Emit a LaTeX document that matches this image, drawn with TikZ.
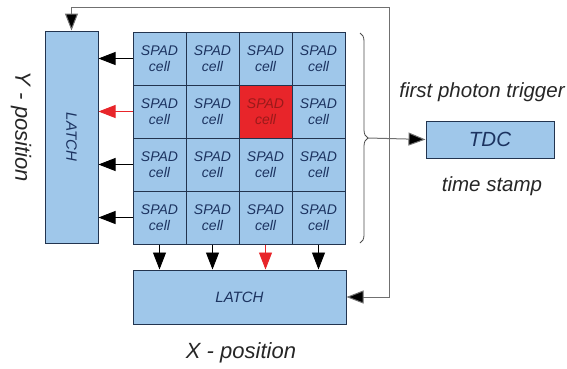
\documentclass[tikz,border=0pt]{standalone}
\usepackage{fontspec}
\setmainfont{Liberation Sans}
\usetikzlibrary{arrows.meta,decorations.pathreplacing,calc}
\definecolor{cellfill}{HTML}{9FC7EA}
\definecolor{cellline}{HTML}{22344F}
\definecolor{celltext}{HTML}{1C3360}
\definecolor{hitred}{HTML}{E8252A}
\definecolor{hittext}{HTML}{9A1A1A}
\definecolor{feedgray}{HTML}{707070}
\begin{document}
\begin{tikzpicture}[x=1pt,y=-1pt,
  cellbox/.style={draw=cellline,line width=1pt,fill=cellfill,minimum width=53pt,minimum height=53pt,inner sep=0pt,align=center,text=celltext,font=\fontsize{14}{16.5}\selectfont\itshape},
  hitbox/.style={cellbox,fill=hitred,text=hittext},
  blockbox/.style={draw=cellline,line width=1pt,fill=cellfill,inner sep=0pt,text=celltext},
  bigtip/.style={-{Triangle[length=17pt,width=13pt,fill=#1]}},
  sig/.style={draw=black,line width=0.9pt,bigtip=black},
  redsig/.style={draw=hitred,line width=0.9pt,bigtip=hitred},
  feed/.style={draw=feedgray,line width=1pt},
  label/.style={text=black!85,font=\fontsize{20.5}{24}\selectfont\itshape,inner sep=0pt}
]
\useasboundingbox (0,0) rectangle (567,368);
% grid of SPAD cells
\foreach \r in {1,...,4}{
  \foreach \c in {1,...,4}{
    \pgfmathsetmacro{\cx}{133+26.5+53*(\c-1)}
    \pgfmathsetmacro{\cy}{32+26.5+53*(\r-1)}
    \ifnum\r=2 \ifnum\c=3
      \node[hitbox] (c-\r-\c) at (\cx,\cy) {SPAD\\cell};
    \else
      \node[cellbox] (c-\r-\c) at (\cx,\cy) {SPAD\\cell};
    \fi\else
      \node[cellbox] (c-\r-\c) at (\cx,\cy) {SPAD\\cell};
    \fi
  }
}
% latches and TDC
\node[blockbox,minimum width=53pt,minimum height=212pt] (ylatch) at (71.5,137) {};
\node[text=celltext,font=\fontsize{15}{18}\selectfont\itshape,rotate=-90] (ylatchtext) at (ylatch.center) {LATCH};
\node[blockbox,minimum width=213pt,minimum height=54pt,font=\fontsize{15}{18}\selectfont\itshape] (xlatch) at (239.5,297) {LATCH};
\node[blockbox,minimum width=128pt,minimum height=37pt,font=\fontsize{20.5}{24}\selectfont\itshape] (tdc) at (490,139.5) {TDC};
% row signals to Y latch
\foreach \r in {1,3,4}{
  \draw[sig] (c-\r-1.west) -- (ylatch.east |- c-\r-1.west);
}
\draw[redsig] (c-2-1.west) -- (ylatch.east |- c-2-1.west);
% column signals to X latch
\foreach \c in {1,2,4}{
  \draw[sig] (c-4-\c.south) -- (xlatch.north -| c-4-\c.south);
}
\draw[redsig] (c-4-3.south) -- (xlatch.north -| c-4-3.south);
% brace and trigger
\coordinate (bracetop) at (360,33);
\coordinate (bracebot) at (360,243);
\draw[draw=black!70,line width=0.8pt,decorate,decoration={brace,amplitude=8pt}] (bracetop) -- (bracebot);
\coordinate (trig) at (368,138);
\draw[feed,bigtip=black] (trig) -- (tdc.west);
% feedback loop
\coordinate (fb) at (389,7);
\draw[feed,bigtip=black] (fb) -| (ylatch.north);
\draw[feed,bigtip=black] (fb) |- (xlatch.east);
% labels
\node[label] (fpt) at (482,92) {first photon trigger};
\node[label] (ts) at (492,186) {time stamp};
\node[label,font=\fontsize{22}{26}\selectfont\itshape,rotate=-90] (ypos) at (21,127) {Y - position};
\node[label,font=\fontsize{22}{26}\selectfont\itshape] (xpos) at (241,353) {X - position};
\end{tikzpicture}
\end{document}
